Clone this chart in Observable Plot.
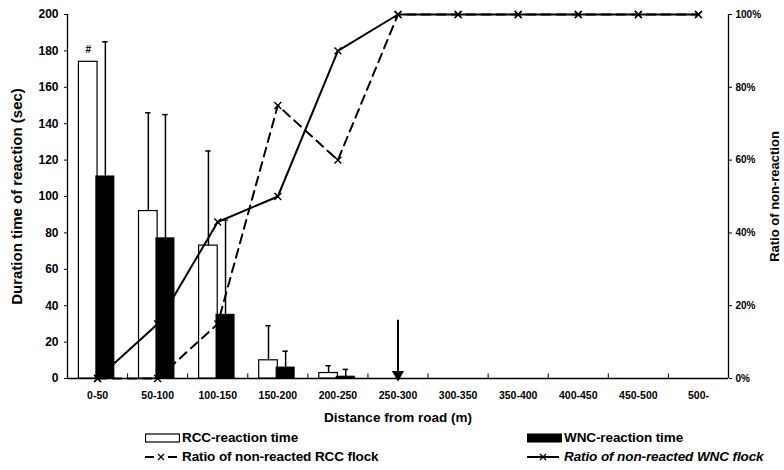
<!DOCTYPE html>
<html><head><meta charset="utf-8">
<script src="https://cdn.jsdelivr.net/npm/d3@7"></script>
<script src="https://cdn.jsdelivr.net/npm/@observablehq/plot@0.6"></script>
<style>
body{margin:0;background:#fff;font-family:"Liberation Sans",Arial,sans-serif;}
#wrap{position:relative;width:784px;height:470px;overflow:hidden;}
.lg{position:absolute;font-weight:bold;font-size:13.5px;line-height:16px;color:#000;display:flex;align-items:center;white-space:nowrap;letter-spacing:-0.1px;}
.lg svg{margin-right:2px;}
</style></head>
<body><div id="wrap"><div id="chart"></div>
<div class="lg" style="left:145px;top:430px"><svg width="35" height="12"><rect x="0.5" y="2" width="34" height="8" fill="#fff" stroke="#000" stroke-width="1.2"/></svg>RCC-reaction time</div>
<div class="lg" style="left:527px;top:430px"><svg width="35" height="12"><rect x="0.5" y="2" width="34" height="8" fill="#000" stroke="#000"/></svg>WNC-reaction time</div>
<div class="lg" style="left:145px;top:449px"><svg width="35" height="12"><path d="M0,6H9M23,6H32" stroke="#000" stroke-width="2"/><path d="M13,3L19,9M19,3L13,9" stroke="#000" stroke-width="1.3"/></svg>Ratio of non-reacted RCC flock</div>
<div class="lg" style="left:527px;top:449px"><svg width="35" height="12"><line x1="0" x2="32" y1="6" y2="6" stroke="#000" stroke-width="2"/><path d="M13,3L19,9M19,3L13,9" stroke="#000" stroke-width="1.3"/></svg><i>Ratio of non-reacted WNC flock</i></div>
</div>
<script>
const categories = ["0-50","50-100","100-150","150-200","200-250","250-300","300-350","350-400","400-450","450-500","500-"];
const rccTime = [174, 92, 73, 10, 3, 0, 0, 0, 0, 0, 0];
const wncTime = [111, 77, 35, 6, 1, 0, 0, 0, 0, 0, 0];
const rccErrTop = [null, 146, 125, 29, 7, null, null, null, null, null, null];
const wncErrTop = [185, 145, 87, 15, 5, null, null, null, null, null, null];
const rccNonReact = [0, 0, 15, 75, 60, 100, 100, 100, 100, 100, 100];
const wncNonReact = [0, 15, 43, 50, 90, 100, 100, 100, 100, 100, 100];
const leftTicks = [0,20,40,60,80,100,120,140,160,180,200];
const rightTicks = [0,20,40,60,80,100];
const arrowCategory = 5;
const arrowTop = 32;
const markCategory = 0;
const markLabel = "#";
const yLabel = "Duration time of reaction (sec)";
const y2Label = "Ratio of non-reaction";
const xLabel = "Distance from road (m)";

const rows = categories.map((c,i)=>({i, c, rcc: rccTime[i], wnc: wncTime[i], re: rccErrTop[i], we: wncErrTop[i], rn: rccNonReact[i]*2, wn: wncNonReact[i]*2}));
const rccOff = [-0.31, 0], wncOff = [-0.02, 0.28];
const rccC = (rccOff[0]+rccOff[1])/2, wncC = (wncOff[0]+wncOff[1])/2;
const rErr = rows.filter(d=>d.re!=null), wErr = rows.filter(d=>d.we!=null);

const plot = Plot.plot({
  width: 784, height: 430,
  marginLeft: 67, marginRight: 56, marginTop: 14, marginBottom: 52,
  style: {fontFamily: '"Liberation Sans", Arial, sans-serif', fontSize: "11px", fontWeight: "bold", color: "#000", background: "#fff", overflow: "visible"},
  x: {type: "linear", domain: [-0.5, 10.5]},
  y: {domain: [0, 200]},
  marks: [
    Plot.axisY({ticks: leftTicks, tickSize: 3, tickPadding: 6, label: null, fontSize: 12}),
    Plot.axisY({anchor: "right", ticks: rightTicks.map(v=>v*2), tickFormat: d=>(d/2)+"%", tickSize: 3, tickPadding: 4, label: null, fontSize: 10}),
    Plot.axisX({ticks: d3.range(categories.length), tickFormat: i=>categories[i], tickSize: 0, tickPadding: 13, label: null, fontSize: 10.5}),
    Plot.text([yLabel], {frameAnchor: "left", dx: -50, rotate: -90, textAnchor: "middle", fontSize: 15, fontWeight: "bold", text: d=>d}),
    Plot.text([y2Label], {frameAnchor: "right", dx: 46, rotate: -90, textAnchor: "middle", fontSize: 13, fontWeight: "bold", text: d=>d}),
    Plot.text([xLabel], {frameAnchor: "bottom", dy: 43, textAnchor: "middle", fontSize: 13.5, fontWeight: "bold", text: d=>d}),
    Plot.ruleX([-0.5, 10.5], {stroke: "#000", strokeWidth: 1.3}),
    Plot.ruleY([0], {stroke: "#000", strokeWidth: 1.3}),
    Plot.ruleX(d3.range(1, categories.length), {x: d=>d-0.5, y1: 0, y2: 2.5, stroke: "#000"}),
    // bars
    Plot.rectY(rows.filter(d=>d.rcc>0), {x1: d=>d.i+rccOff[0], x2: d=>d.i+rccOff[1], y: "rcc", fill: "#fff", stroke: "#000", strokeWidth: 1.2}),
    Plot.rectY(rows.filter(d=>d.wnc>0), {x1: d=>d.i+wncOff[0], x2: d=>d.i+wncOff[1], y: "wnc", fill: "#000", stroke: "#000", strokeWidth: 1}),
    // error bars
    Plot.ruleX(rErr, {x: d=>d.i+rccC, y1: "rcc", y2: "re", stroke: "#000", strokeWidth: 1.5}),
    Plot.ruleY(rErr, {y: "re", x1: d=>d.i+rccC-0.045, x2: d=>d.i+rccC+0.045, stroke: "#000", strokeWidth: 1.5}),
    Plot.ruleX(wErr, {x: d=>d.i+wncC, y1: "wnc", y2: "we", stroke: "#000", strokeWidth: 1.5}),
    Plot.ruleY(wErr, {y: "we", x1: d=>d.i+wncC-0.045, x2: d=>d.i+wncC+0.045, stroke: "#000", strokeWidth: 1.5}),
    Plot.text([markLabel], {x: markCategory+rccC, y: rccTime[markCategory], dy: -12, text: d=>d, fontSize: 10, fontWeight: "bold"}),
    // arrow
    Plot.ruleX([arrowCategory], {x: d=>d, y1: arrowTop, y2: 3, stroke: "#000", strokeWidth: 2}),
    Plot.dot([arrowCategory], {x: d=>d, y: 0, dy: -4, symbol: "triangle", rotate: 180, r: 4.5, fill: "#000", stroke: "none"}),
    // lines
    Plot.line(rows, {x: "i", y: "rn", stroke: "#000", strokeWidth: 2, strokeDasharray: "9,6"}),
    Plot.line(rows, {x: "i", y: "wn", stroke: "#000", strokeWidth: 2}),
    Plot.dot(rows, {x: "i", y: "rn", symbol: "times", r: 3.2, stroke: "#000", strokeWidth: 1.4}),
    Plot.dot(rows, {x: "i", y: "wn", symbol: "times", r: 3.2, stroke: "#000", strokeWidth: 1.4})
  ]
});
document.getElementById("chart").appendChild(plot);
</script></body></html>
